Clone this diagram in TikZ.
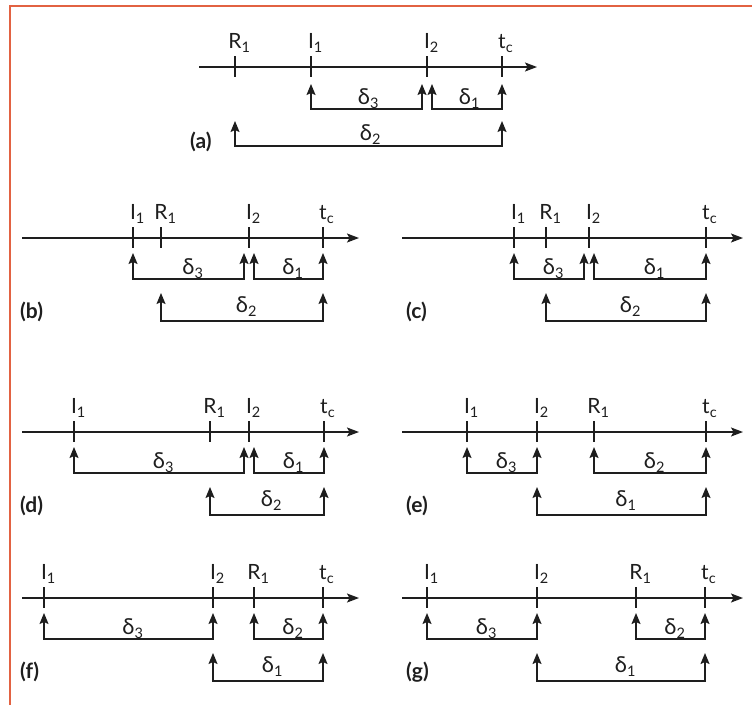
\documentclass[tikz,border=0pt]{standalone}
\usepackage{fontspec}
\setmainfont{Lato}
\usetikzlibrary{arrows.meta}
\definecolor{framecol}{RGB}{226,98,66}
\definecolor{ink}{RGB}{30,30,30}
\newcommand\sbs[1]{\rlap{\raisebox{-4pt}{\fontsize{14.5}{14.5}\selectfont #1}}}
\tikzset{
  axisline/.style={draw=ink, line width=1.4pt, -{Stealth[length=12pt,width=9pt,inset=2.5pt]}},
  tk/.style={draw=ink, line width=1.4pt},
  lab/.style={font=\fontsize{21}{21}\selectfont, anchor=base, inner sep=0pt, text=ink},
  dl/.style={font=\fontsize{22}{22}\selectfont, anchor=base, inner sep=0pt, text=ink},
  pl/.style={font=\fontsize{21}{21}\selectfont\bfseries, anchor=base west, inner sep=0pt, text=ink},
  br/.style={draw=ink, line width=1.4pt, {Stealth[length=11pt,width=9pt,inset=2pt]}-{Stealth[length=11pt,width=9pt,inset=2pt]}}
}
% name, x, Y, label
\newcommand\tmark[4]{%
  \coordinate (#1) at (#2,#3);
  \draw[tk] ([yshift=11pt]#1) -- ([yshift=-10pt]#1);
  \node[lab] (#1-l) at ([yshift=19pt]#1) {#4};}
% name, xa, xb, Y, label
\newcommand\brkone[5]{%
  \draw[br] (#2,#4+15) -- (#2,#4+41) -- (#3,#4+41) -- (#3,#4+15);
  \node[dl] (#1) at ({(#2+#3)/2},#4+36) {#5};}
\newcommand\brktwo[5]{%
  \draw[br] (#2,#4+55) -- (#2,#4+83) -- (#3,#4+83) -- (#3,#4+55);
  \node[dl] (#1) at ({(#2+#3)/2},#4+74) {#5};}
% name, xstart, xend, Y
\newcommand\taxis[4]{%
  \coordinate (#1s) at (#2,#4);
  \coordinate (#1e) at (#3,#4);
  \draw[axisline] (#1s) -- (#1e);}
\begin{document}
\begin{tikzpicture}[x=1pt,y=-1pt]
\useasboundingbox (0,0) rectangle (752,705);
\draw[framecol, line width=1.6pt] (10,705) -- (10,6) -- (752,6);

% (a)
\taxis{a}{199}{537}{67}
\tmark{aR}{235}{67}{R\sbs{1}}
\tmark{aI1}{311}{67}{I\sbs{1}}
\tmark{aI2}{427}{67}{I\sbs{2}}
\tmark{atc}{502}{67}{t\sbs{c}}
\draw[br] (311,84) -- (311,109) -- (422,109) -- (422,84);
\node[dl] (ad3) at (364,104) {δ\sbs{3}};
\draw[br] (432,84) -- (432,109) -- (502,109) -- (502,84);
\node[dl] (ad1) at (465,104) {δ\sbs{1}};
\draw[br] (235,121) -- (235,146) -- (502,146) -- (502,121);
\node[dl] (ad2) at (366,140) {δ\sbs{2}};
\node[pl] (pa) at (190,148) {(a)};

% (b)
\taxis{b}{22}{359}{238}
\tmark{bI1}{133}{238}{I\sbs{1}}
\tmark{bR}{161}{238}{R\sbs{1}}
\tmark{bI2}{249}{238}{I\sbs{2}}
\tmark{btc}{323}{238}{t\sbs{c}}
\brkone{bd3}{133}{244}{238}{δ\sbs{3}}
\brkone{bd1}{254}{323}{238}{δ\sbs{1}}
\brktwo{bd2}{161}{323}{238}{δ\sbs{2}}
\node[pl] (pb) at (20,318) {(b)};

% (c)
\taxis{c}{402}{743}{238}
\tmark{cI1}{514}{238}{I\sbs{1}}
\tmark{cR}{546}{238}{R\sbs{1}}
\tmark{cI2}{589}{238}{I\sbs{2}}
\tmark{ctc}{706}{238}{t\sbs{c}}
\brkone{cd3}{514}{584}{238}{δ\sbs{3}}
\brkone{cd1}{594}{706}{238}{δ\sbs{1}}
\brktwo{cd2}{546}{706}{238}{δ\sbs{2}}
\node[pl] (pc) at (406,318) {(c)};

% (d)
\taxis{d}{22}{359}{432}
\tmark{dI1}{74}{432}{I\sbs{1}}
\tmark{dR}{210}{432}{R\sbs{1}}
\tmark{dI2}{249}{432}{I\sbs{2}}
\tmark{dtc}{324}{432}{t\sbs{c}}
\brkone{dd3}{74}{244}{432}{δ\sbs{3}}
\brkone{dd1}{254}{324}{432}{δ\sbs{1}}
\brktwo{dd2}{210}{324}{432}{δ\sbs{2}}
\node[pl] (pd) at (20,512) {(d)};

% (e)
\taxis{e}{402}{743}{432}
\tmark{eI1}{467}{432}{I\sbs{1}}
\tmark{eI2}{537}{432}{I\sbs{2}}
\tmark{eR}{594}{432}{R\sbs{1}}
\tmark{etc}{706}{432}{t\sbs{c}}
\brkone{ed3}{467}{537}{432}{δ\sbs{3}}
\brkone{ed2}{594}{706}{432}{δ\sbs{2}}
\brktwo{ed1}{537}{706}{432}{δ\sbs{1}}
\node[pl] (pe) at (406,512) {(e)};

% (f)
\taxis{f}{22}{359}{598}
\tmark{fI1}{44}{598}{I\sbs{1}}
\tmark{fI2}{213}{598}{I\sbs{2}}
\tmark{fR}{254}{598}{R\sbs{1}}
\tmark{ftc}{323}{598}{t\sbs{c}}
\brkone{fd3}{44}{213}{598}{δ\sbs{3}}
\brkone{fd2}{254}{323}{598}{δ\sbs{2}}
\brktwo{fd1}{213}{323}{598}{δ\sbs{1}}
\node[pl] (pf) at (20,678) {(f)};

% (g)
\taxis{g}{402}{743}{598}
\tmark{gI1}{427}{598}{I\sbs{1}}
\tmark{gI2}{537}{598}{I\sbs{2}}
\tmark{gR}{636}{598}{R\sbs{1}}
\tmark{gtc}{705}{598}{t\sbs{c}}
\brkone{gd3}{427}{537}{598}{δ\sbs{3}}
\brkone{gd2}{636}{705}{598}{δ\sbs{2}}
\brktwo{gd1}{537}{705}{598}{δ\sbs{1}}
\node[pl] (pg) at (406,678) {(g)};
\end{tikzpicture}
\end{document}
